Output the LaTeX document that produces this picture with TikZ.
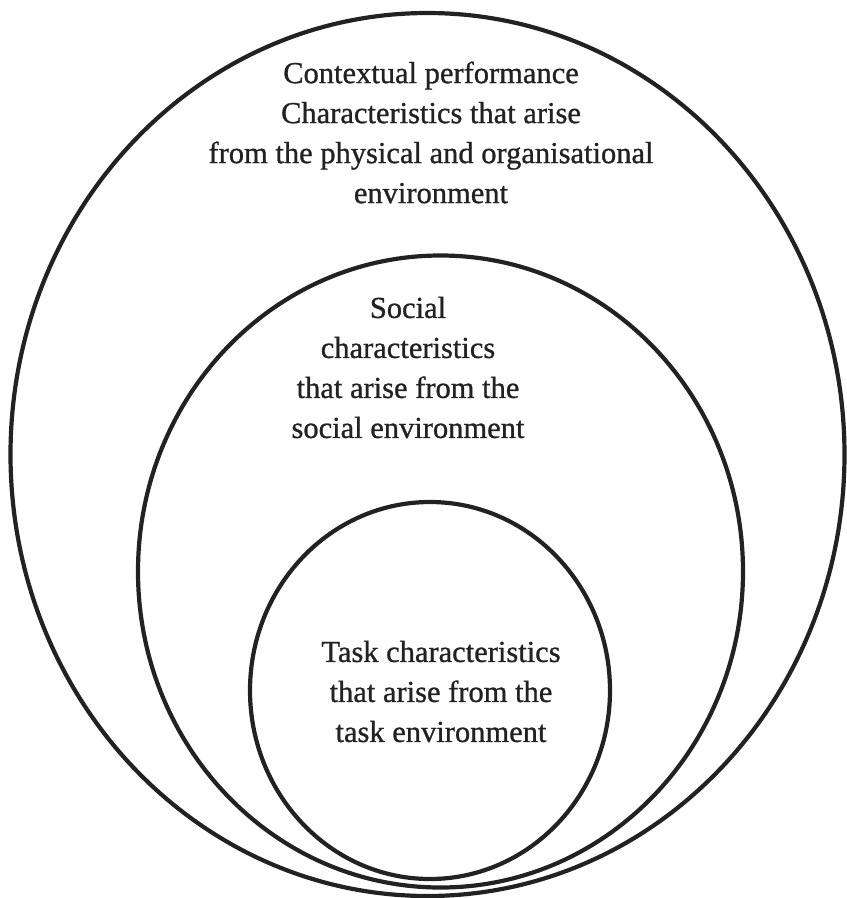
\documentclass[tikz,border=0pt]{standalone}
\usepackage{fontspec}
\setmainfont{Liberation Serif}
\newfontfamily\capfont{Liberation Serif}[FakeBold=0.9]
\usetikzlibrary{shapes.geometric}
\definecolor{ink}{HTML}{222222}
\begin{document}
\begin{tikzpicture}[x=1pt,y=-1pt,
  ring/.style={draw=ink, line width=4.2pt, ellipse, inner sep=0pt},
  label/.style={text=ink, align=center, inner sep=0pt,
    font=\capfont\fontsize{30.5}{40}\selectfont}]
  \useasboundingbox (0,0) rectangle (847,898);
  % nested rings, all resting near the bottom edge
  \node[ring, minimum width=834pt, minimum height=883pt] (outer) at (427.5,454.5) {};
  \node[ring, minimum width=605pt, minimum height=632pt] (middle) at (440.5,571.5) {};
  \node[ring, minimum width=360pt, minimum height=377pt] (inner) at (430,690.5) {};
  % captions
  \node[label] (outertext) at (431,132.5) {Contextual performance\\Characteristics that arise\\from the physical and organisational\\environment};
  \node[label] (middletext) at (408,367.5) {Social\\characteristics\\that arise from the\\social environment};
  \node[label] (innertext) at (441,691.5) {Task characteristics\\that arise from the\\task environment};
\end{tikzpicture}
\end{document}
